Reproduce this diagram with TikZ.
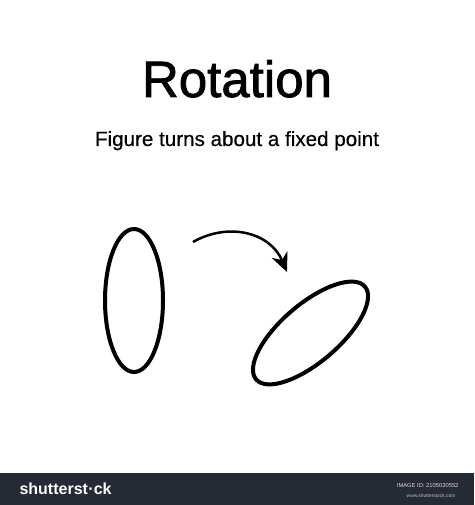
\documentclass[tikz,border=0pt]{standalone}
\usepackage{fontspec}
\setmainfont{Liberation Sans}
\newfontfamily\titlefont{Liberation Sans}[FakeBold=1.6]
\newfontfamily\subfont{Liberation Sans}[FakeBold=0.4]
\usetikzlibrary{arrows.meta}
\begin{document}
\begin{tikzpicture}[x=1pt,y=1pt,
  ovalline/.style={line width=4pt,black},
  turn/.style={line width=2.5pt,-{Stealth[length=19pt,width=17pt,inset=6pt]}},
  bar/.style={fill={rgb,255:red,38;green,42;blue,52}}]
\useasboundingbox (0,0) rectangle (474,505);
\fill[white] (0,0) rectangle (474,505);
% title and subtitle
\node[anchor=base,font=\titlefont\fontsize{51}{60}\selectfont] (title) at (237,505-97) {Rotation};
\node[anchor=base,font=\subfont\fontsize{20.6}{24}\selectfont] (sub) at (237,505-146) {Figure turns about a fixed point};
% ellipses
\draw[ovalline] (134,505-300.5) ellipse [x radius=29, y radius=71.5];
\draw[ovalline,rotate around={40.5:(310.5,505-333)}] (310.5,505-333) ellipse [x radius=71.5, y radius=29];
% arrow
\coordinate (a1) at (193,505-242);
\coordinate (a2) at (287,505-272);
\draw[turn] (a1) .. controls (228,505-222) and (270,505-232) .. (a2);
% bottom bar
\fill[bar] (0,0) rectangle (474,505-473);
\node[anchor=base west,text=white,font=\fontsize{16}{18}\selectfont\bfseries] (logo) at (16,505-495) {shutterst\kern0.5pt{\textperiodcentered}ck};
\node[anchor=base east,text=white!85!black,font=\fontsize{5.8}{6}\selectfont] (id) at (462,505-487.5) {IMAGE ID: 2105030552};
\node[anchor=base east,text=white!75!black,font=\fontsize{4.9}{5}\selectfont] (www) at (459,505-497) {www.shutterstock.com};
\end{tikzpicture}
\end{document}
